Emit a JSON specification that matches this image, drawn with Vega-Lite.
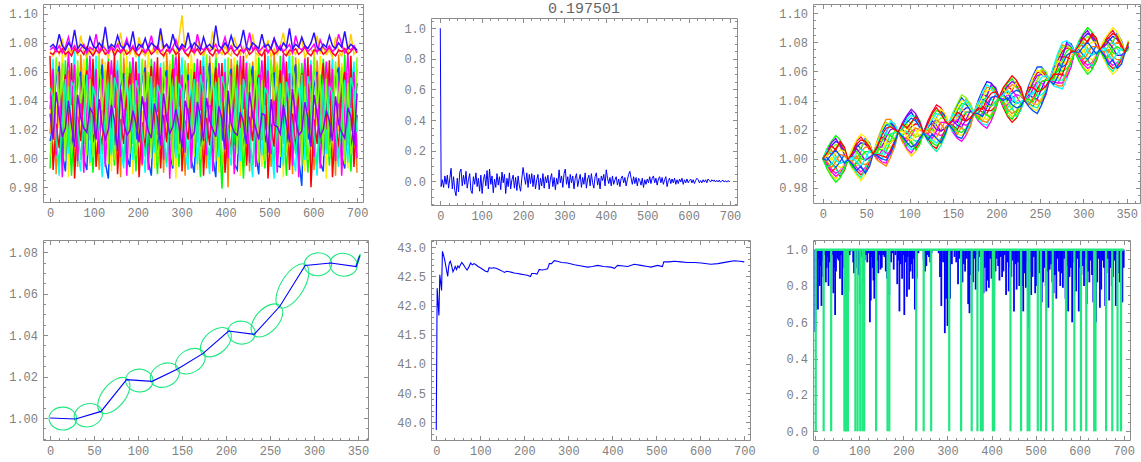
{
"$schema":"https://vega.github.io/schema/vega-lite/v6.json",
"background":"white",
"padding":{"left":8,"top":0,"right":0,"bottom":0},
"columns":3,
"spacing":{"row":35,"column":63},
"bounds":"flush",
"datasets":{
"p1":[
{"x":0,"a":1.077,"b":1.075,"c":1.073,"d":1.074,"e":1.017,"f":1.060,"g":0.993,"h":1.041,"i":1.012,"j":1.071,"k":1.034,"l":1.001,"m":1.049,"n":1.031},
{"x":7,"a":1.079,"b":1.077,"c":1.072,"d":1.071,"e":1.054,"f":0.997,"g":1.039,"h":1.069,"i":1.023,"j":0.992,"k":1.062,"l":1.020,"m":1.042,"n":1.013},
{"x":14,"a":1.076,"b":1.074,"c":1.075,"d":1.077,"e":0.989,"f":1.037,"g":1.059,"h":1.009,"i":1.057,"j":1.024,"k":1.002,"l":1.070,"m":1.013,"n":1.046},
{"x":21,"a":1.086,"b":1.078,"c":1.073,"d":1.072,"e":1.067,"f":1.021,"g":1.044,"h":0.988,"i":1.064,"j":1.007,"k":1.058,"l":1.036,"m":0.996,"n":1.029},
{"x":28,"a":1.078,"b":1.073,"c":1.076,"d":1.083,"e":1.033,"f":1.073,"g":1.004,"h":1.053,"i":1.004,"j":1.043,"k":0.987,"l":1.066,"m":1.027,"n":1.015},
{"x":35,"a":1.075,"b":1.077,"c":1.072,"d":1.070,"e":1.010,"f":1.049,"g":1.068,"h":1.026,"i":0.991,"j":1.058,"k":1.038,"l":0.998,"m":1.055,"n":1.021},
{"x":42,"a":1.080,"b":1.084,"c":1.074,"d":1.076,"e":1.061,"f":0.987,"g":1.028,"h":1.003,"i":1.042,"j":1.018,"k":1.073,"l":1.050,"m":1.008,"n":1.040},
{"x":49,"a":1.077,"b":1.075,"c":1.071,"d":1.073,"e":1.020,"f":1.063,"g":0.988,"h":1.048,"i":1.007,"j":1.066,"k":1.037,"l":1.004,"m":1.053,"n":1.023},
{"x":56,"a":1.089,"b":1.078,"c":1.076,"d":1.078,"e":1.050,"f":1.001,"g":1.034,"h":1.074,"i":1.027,"j":0.986,"k":1.065,"l":1.015,"m":1.049,"n":1.008},
{"x":63,"a":1.076,"b":1.074,"c":1.073,"d":1.071,"e":0.994,"f":1.032,"g":1.063,"h":1.004,"i":1.055,"j":1.029,"k":0.998,"l":1.068,"m":1.022,"n":1.044},
{"x":70,"a":1.079,"b":1.076,"c":1.075,"d":1.085,"e":1.072,"f":1.016,"g":1.040,"h":0.991,"i":1.060,"j":1.012,"k":1.050,"l":1.038,"m":0.999,"n":1.028},
{"x":77,"a":1.077,"b":1.079,"c":1.072,"d":1.074,"e":1.040,"f":1.069,"g":1.010,"h":1.050,"i":1.000,"j":1.047,"k":0.990,"l":1.058,"m":1.024,"n":1.021},
{"x":84,"a":1.075,"b":1.073,"c":1.077,"d":1.070,"e":1.006,"f":1.044,"g":1.074,"h":1.022,"i":0.992,"j":1.061,"k":1.032,"l":1.002,"m":1.058,"n":1.018},
{"x":91,"a":1.084,"b":1.077,"c":1.074,"d":1.076,"e":1.058,"f":0.995,"g":1.025,"h":0.997,"i":1.047,"j":1.014,"k":1.071,"l":1.055,"m":1.012,"n":1.035},
{"x":98,"a":1.078,"b":1.075,"c":1.071,"d":1.072,"e":1.018,"f":1.066,"g":0.990,"h":1.042,"i":1.011,"j":1.069,"k":1.031,"l":1.001,"m":1.050,"n":1.031},
{"x":105,"a":1.076,"b":1.086,"c":1.075,"d":1.077,"e":1.052,"f":0.995,"g":1.038,"h":1.071,"i":1.024,"j":0.994,"k":1.062,"l":1.019,"m":1.041,"n":1.013},
{"x":112,"a":1.080,"b":1.074,"c":1.073,"d":1.071,"e":0.992,"f":1.035,"g":1.060,"h":1.013,"i":1.052,"j":1.022,"k":1.003,"l":1.071,"m":1.020,"n":1.041},
{"x":119,"a":1.077,"b":1.078,"c":1.076,"d":1.082,"e":1.069,"f":1.022,"g":1.045,"h":0.987,"i":1.065,"j":1.008,"k":1.055,"l":1.033,"m":1.003,"n":1.022},
{"x":126,"a":1.091,"b":1.076,"c":1.072,"d":1.074,"e":1.036,"f":1.067,"g":1.013,"h":1.053,"i":0.997,"j":1.046,"k":0.994,"l":1.061,"m":1.029,"n":1.013},
{"x":133,"a":1.076,"b":1.073,"c":1.074,"d":1.070,"e":1.012,"f":1.042,"g":1.070,"h":1.028,"i":0.986,"j":1.067,"k":1.036,"l":0.996,"m":1.052,"n":1.020},
{"x":140,"a":1.079,"b":1.077,"c":1.077,"d":1.078,"e":1.062,"f":0.991,"g":1.023,"h":1.002,"i":1.043,"j":1.021,"k":1.068,"l":1.058,"m":1.004,"n":1.037},
{"x":147,"a":1.077,"b":1.075,"c":1.071,"d":1.073,"e":1.014,"f":1.059,"g":0.995,"h":1.045,"i":1.009,"j":1.072,"k":1.035,"l":0.999,"m":1.056,"n":1.026},
{"x":154,"a":1.085,"b":1.079,"c":1.075,"d":1.076,"e":1.057,"f":0.998,"g":1.031,"h":1.068,"i":1.030,"j":0.989,"k":1.061,"l":1.017,"m":1.046,"n":1.005},
{"x":161,"a":1.078,"b":1.074,"c":1.073,"d":1.087,"e":0.987,"f":1.038,"g":1.064,"h":1.007,"i":1.050,"j":1.027,"k":1.001,"l":1.073,"m":1.016,"n":1.048},
{"x":168,"a":1.076,"b":1.077,"c":1.076,"d":1.071,"e":1.070,"f":1.019,"g":1.047,"h":0.993,"i":1.059,"j":1.010,"k":1.053,"l":1.034,"m":0.998,"n":1.025},
{"x":175,"a":1.080,"b":1.083,"c":1.072,"d":1.075,"e":1.039,"f":1.071,"g":1.006,"h":1.057,"i":1.002,"j":1.041,"k":0.988,"l":1.063,"m":1.030,"n":1.016},
{"x":182,"a":1.077,"b":1.075,"c":1.074,"d":1.072,"e":1.011,"f":1.046,"g":1.067,"h":1.024,"i":0.994,"j":1.059,"k":1.039,"l":1.003,"m":1.051,"n":1.019},
{"x":189,"a":1.088,"b":1.078,"c":1.077,"d":1.077,"e":1.064,"f":0.989,"g":1.029,"h":0.999,"i":1.048,"j":1.015,"k":1.070,"l":1.052,"m":1.010,"n":1.033},
{"x":196,"a":1.075,"b":1.074,"c":1.073,"d":1.070,"e":1.021,"f":1.062,"g":0.991,"h":1.040,"i":1.013,"j":1.067,"k":1.038,"l":1.002,"m":1.054,"n":1.024},
{"x":203,"a":1.079,"b":1.076,"c":1.071,"d":1.084,"e":1.049,"f":1.003,"g":1.036,"h":1.072,"i":1.028,"j":0.987,"k":1.059,"l":1.014,"m":1.044,"n":1.011},
{"x":210,"a":1.077,"b":1.079,"c":1.075,"d":1.074,"e":0.995,"f":1.033,"g":1.061,"h":1.010,"i":1.057,"j":1.025,"k":0.996,"l":1.069,"m":1.018,"n":1.043},
{"x":217,"a":1.083,"b":1.073,"c":1.073,"d":1.071,"e":1.068,"f":1.015,"g":1.042,"h":0.990,"i":1.063,"j":1.006,"k":1.051,"l":1.039,"m":1.001,"n":1.030},
{"x":224,"a":1.076,"b":1.077,"c":1.076,"d":1.076,"e":1.034,"f":1.074,"g":1.008,"h":1.055,"i":0.998,"j":1.044,"k":0.992,"l":1.060,"m":1.023,"n":1.019},
{"x":231,"a":1.080,"b":1.085,"c":1.072,"d":1.073,"e":1.007,"f":1.048,"g":1.069,"h":1.027,"i":0.988,"j":1.064,"k":1.033,"l":1.000,"m":1.057,"n":1.014},
{"x":238,"a":1.078,"b":1.075,"c":1.074,"d":1.078,"e":1.059,"f":0.993,"g":1.026,"h":1.004,"i":1.045,"j":1.020,"k":1.067,"l":1.049,"m":1.009,"n":1.038},
{"x":245,"a":1.076,"b":1.078,"c":1.077,"d":1.072,"e":1.016,"f":1.065,"g":0.989,"h":1.047,"i":1.005,"j":1.070,"k":1.032,"l":0.997,"m":1.051,"n":1.028},
{"x":252,"a":1.090,"b":1.074,"c":1.073,"d":1.086,"e":1.056,"f":0.996,"g":1.039,"h":1.066,"i":1.025,"j":0.993,"k":1.063,"l":1.021,"m":1.043,"n":1.009},
{"x":259,"a":1.077,"b":1.076,"c":1.071,"d":1.070,"e":0.990,"f":1.036,"g":1.058,"h":1.012,"i":1.054,"j":1.030,"k":0.999,"l":1.067,"m":1.015,"n":1.045},
{"x":266,"a":1.079,"b":1.079,"c":1.075,"d":1.075,"e":1.073,"f":1.017,"g":1.041,"h":0.994,"i":1.061,"j":1.011,"k":1.056,"l":1.032,"m":0.997,"n":1.027},
{"x":273,"a":1.076,"b":1.073,"c":1.074,"d":1.073,"e":1.037,"f":1.068,"g":1.012,"h":1.051,"i":1.003,"j":1.048,"k":0.986,"l":1.065,"m":1.026,"n":1.017},
{"x":280,"a":1.086,"b":1.077,"c":1.076,"d":1.077,"e":1.009,"f":1.043,"g":1.072,"h":1.029,"i":0.993,"j":1.062,"k":1.040,"l":0.995,"m":1.050,"n":1.022},
{"x":287,"a":1.078,"b":1.082,"c":1.072,"d":1.071,"e":1.063,"f":0.986,"g":1.030,"h":1.000,"i":1.046,"j":1.016,"k":1.074,"l":1.057,"m":1.006,"n":1.034},
{"x":294,"a":1.075,"b":1.075,"c":1.074,"d":1.083,"e":1.019,"f":1.061,"g":0.994,"h":1.044,"i":1.010,"j":1.073,"k":1.036,"l":1.003,"m":1.052,"n":1.023},
{"x":301,"a":1.079,"b":1.078,"c":1.077,"d":1.099,"e":1.053,"f":1.000,"g":1.033,"h":1.070,"i":1.029,"j":0.991,"k":1.058,"l":1.016,"m":1.047,"n":1.007},
{"x":308,"a":1.077,"b":1.074,"c":1.073,"d":1.074,"e":0.988,"f":1.039,"g":1.065,"h":1.005,"i":1.049,"j":1.026,"k":1.004,"l":1.068,"m":1.021,"n":1.040},
{"x":315,"a":1.087,"b":1.076,"c":1.071,"d":1.070,"e":1.066,"f":1.020,"g":1.046,"h":0.992,"i":1.058,"j":1.013,"k":1.054,"l":1.035,"m":1.000,"n":1.031},
{"x":322,"a":1.076,"b":1.079,"c":1.075,"d":1.076,"e":1.032,"f":1.072,"g":1.005,"h":1.056,"i":0.999,"j":1.042,"k":0.993,"l":1.062,"m":1.028,"n":1.014},
{"x":329,"a":1.080,"b":1.073,"c":1.073,"d":1.072,"e":1.013,"f":1.047,"g":1.066,"h":1.023,"i":0.990,"j":1.060,"k":1.037,"l":1.001,"m":1.055,"n":1.018},
{"x":336,"a":1.078,"b":1.086,"c":1.076,"d":1.085,"e":1.060,"f":0.992,"g":1.027,"h":0.996,"i":1.041,"j":1.019,"k":1.069,"l":1.053,"m":1.011,"n":1.039},
{"x":343,"a":1.075,"b":1.077,"c":1.072,"d":1.073,"e":1.015,"f":1.064,"g":0.987,"h":1.046,"i":1.008,"j":1.068,"k":1.033,"l":1.000,"m":1.058,"n":1.029},
{"x":350,"a":1.084,"b":1.075,"c":1.074,"d":1.071,"e":1.051,"f":0.997,"g":1.040,"h":1.073,"i":1.024,"j":0.988,"k":1.064,"l":1.018,"m":1.045,"n":1.012},
{"x":357,"a":1.077,"b":1.078,"c":1.077,"d":1.077,"e":0.993,"f":1.034,"g":1.062,"h":1.011,"i":1.053,"j":1.028,"k":1.002,"l":1.072,"m":1.014,"n":1.042},
{"x":364,"a":1.079,"b":1.074,"c":1.073,"d":1.074,"e":1.071,"f":1.014,"g":1.048,"h":0.989,"i":1.066,"j":1.009,"k":1.050,"l":1.037,"m":0.999,"n":1.026},
{"x":371,"a":1.076,"b":1.076,"c":1.071,"d":1.088,"e":1.038,"f":1.066,"g":1.011,"h":1.054,"i":1.001,"j":1.045,"k":0.991,"l":1.059,"m":1.025,"n":1.020},
{"x":378,"a":1.092,"b":1.079,"c":1.075,"d":1.070,"e":1.005,"f":1.041,"g":1.073,"h":1.030,"i":0.987,"j":1.063,"k":1.034,"l":0.998,"m":1.053,"n":1.015},
{"x":385,"a":1.078,"b":1.073,"c":1.074,"d":1.075,"e":1.065,"f":0.990,"g":1.024,"h":1.001,"i":1.049,"j":1.017,"k":1.066,"l":1.056,"m":1.007,"n":1.036},
{"x":392,"a":1.076,"b":1.077,"c":1.076,"d":1.072,"e":1.022,"f":1.058,"g":0.979,"h":1.043,"i":1.012,"j":1.066,"k":1.039,"l":0.996,"m":1.057,"n":1.027},
{"x":399,"a":1.080,"b":1.084,"c":1.072,"d":1.078,"e":1.055,"f":1.002,"g":1.035,"h":1.069,"i":1.031,"j":0.990,"k":1.060,"l":1.013,"m":1.048,"n":1.006},
{"x":406,"a":1.077,"b":1.075,"c":1.074,"d":1.073,"e":0.980,"f":1.040,"g":1.059,"h":1.008,"i":1.056,"j":1.023,"k":1.000,"l":1.070,"m":1.019,"n":1.047},
{"x":413,"a":1.085,"b":1.078,"c":1.077,"d":1.071,"e":1.069,"f":1.018,"g":1.043,"h":0.995,"i":1.062,"j":1.004,"k":1.057,"l":1.031,"m":1.002,"n":1.024},
{"x":420,"a":1.078,"b":1.074,"c":1.073,"d":1.084,"e":1.035,"f":1.070,"g":1.009,"h":1.052,"i":0.996,"j":1.040,"k":0.989,"l":1.064,"m":1.030,"n":1.018},
{"x":427,"a":1.076,"b":1.076,"c":1.071,"d":1.076,"e":1.008,"f":1.045,"g":1.068,"h":1.025,"i":0.992,"j":1.065,"k":1.035,"l":1.003,"m":1.049,"n":1.016},
{"x":434,"a":1.079,"b":1.079,"c":1.075,"d":1.072,"e":1.062,"f":0.988,"g":1.031,"h":0.998,"i":1.044,"j":1.021,"k":1.071,"l":1.051,"m":1.005,"n":1.032},
{"x":441,"a":1.089,"b":1.073,"c":1.074,"d":1.077,"e":1.017,"f":1.063,"g":0.986,"h":1.048,"i":1.006,"j":1.071,"k":1.034,"l":1.002,"m":1.055,"n":1.025},
{"x":448,"a":1.077,"b":1.077,"c":1.076,"d":1.070,"e":1.058,"f":0.999,"g":1.037,"h":1.067,"i":1.027,"j":0.995,"k":1.066,"l":1.020,"m":1.042,"n":1.010},
{"x":455,"a":1.075,"b":1.087,"c":1.072,"d":1.074,"e":0.991,"f":1.032,"g":1.063,"h":1.006,"i":1.051,"j":1.029,"k":0.997,"l":1.066,"m":1.017,"n":1.046},
{"x":462,"a":1.080,"b":1.075,"c":1.074,"d":1.086,"e":1.067,"f":1.021,"g":1.044,"h":0.987,"i":1.064,"j":1.012,"k":1.052,"l":1.033,"m":0.995,"n":1.029},
{"x":469,"a":1.078,"b":1.078,"c":1.077,"d":1.073,"e":1.040,"f":1.073,"g":1.007,"h":1.058,"i":1.003,"j":1.047,"k":0.994,"l":1.061,"m":1.022,"n":1.021},
{"x":476,"a":1.076,"b":1.074,"c":1.073,"d":1.071,"e":1.012,"f":1.042,"g":1.070,"h":1.028,"i":0.989,"j":1.058,"k":1.038,"l":0.997,"m":1.056,"n":1.013},
{"x":483,"a":1.086,"b":1.076,"c":1.071,"d":1.077,"e":1.058,"f":0.994,"g":1.022,"h":1.002,"i":1.047,"j":1.013,"k":1.068,"l":1.054,"m":1.012,"n":1.031},
{"x":490,"a":1.077,"b":1.079,"c":1.075,"d":1.074,"e":1.020,"f":1.060,"g":0.993,"h":1.041,"i":1.011,"j":1.074,"k":1.037,"l":0.998,"m":1.049,"n":1.030},
{"x":497,"a":1.079,"b":1.073,"c":1.074,"d":1.082,"e":1.050,"f":1.004,"g":1.032,"h":1.071,"i":1.022,"j":0.986,"k":1.061,"l":1.022,"m":1.044,"n":1.004},
{"x":504,"a":1.076,"b":1.077,"c":1.076,"d":1.070,"e":0.994,"f":1.037,"g":1.066,"h":1.012,"i":1.058,"j":1.024,"k":1.003,"l":1.069,"m":1.013,"n":1.041},
{"x":511,"a":1.083,"b":1.083,"c":1.072,"d":1.076,"e":1.074,"f":1.016,"g":1.047,"h":0.986,"i":1.059,"j":1.008,"k":1.049,"l":1.040,"m":0.998,"n":1.023},
{"x":518,"a":1.078,"b":1.075,"c":1.074,"d":1.072,"e":1.031,"f":1.067,"g":1.004,"h":1.050,"i":0.995,"j":1.043,"k":0.990,"l":1.065,"m":1.024,"n":1.022},
{"x":525,"a":1.075,"b":1.078,"c":1.077,"d":1.078,"e":1.004,"f":1.048,"g":1.071,"h":1.022,"i":0.994,"j":1.061,"k":1.031,"l":1.001,"m":1.052,"n":1.017},
{"x":532,"a":1.080,"b":1.074,"c":1.073,"d":1.087,"e":1.066,"f":0.987,"g":1.029,"h":0.995,"i":1.043,"j":1.015,"k":1.072,"l":1.058,"m":1.010,"n":1.037},
{"x":539,"a":1.077,"b":1.076,"c":1.071,"d":1.073,"e":1.014,"f":1.065,"g":0.988,"h":1.045,"i":1.007,"j":1.067,"k":1.040,"l":1.004,"m":1.053,"n":1.024},
{"x":546,"a":1.090,"b":1.079,"c":1.075,"d":1.071,"e":1.054,"f":0.995,"g":1.038,"h":1.074,"i":1.026,"j":0.992,"k":1.059,"l":1.017,"m":1.040,"n":1.011},
{"x":553,"a":1.076,"b":1.073,"c":1.074,"d":1.075,"e":0.989,"f":1.039,"g":1.060,"h":1.004,"i":1.055,"j":1.031,"k":0.995,"l":1.071,"m":1.020,"n":1.048},
{"x":560,"a":1.079,"b":1.085,"c":1.076,"d":1.072,"e":1.070,"f":1.013,"g":1.040,"h":0.991,"i":1.065,"j":1.005,"k":1.055,"l":1.036,"m":1.003,"n":1.027},
{"x":567,"a":1.077,"b":1.077,"c":1.072,"d":1.077,"e":1.033,"f":1.069,"g":1.013,"h":1.049,"i":1.000,"j":1.041,"k":0.987,"l":1.066,"m":1.029,"n":1.016},
{"x":574,"a":1.084,"b":1.075,"c":1.074,"d":1.083,"e":1.010,"f":1.040,"g":1.066,"h":1.031,"i":0.981,"j":1.059,"k":1.036,"l":0.995,"m":1.058,"n":1.019},
{"x":581,"a":1.078,"b":1.078,"c":1.077,"d":1.070,"e":1.061,"f":0.991,"g":1.025,"h":0.999,"i":1.048,"j":1.018,"k":1.070,"l":1.050,"m":1.008,"n":1.039},
{"x":588,"a":1.076,"b":1.074,"c":1.073,"d":1.074,"e":1.018,"f":1.062,"g":0.990,"h":1.049,"i":1.013,"j":1.070,"k":1.033,"l":0.999,"m":1.057,"n":1.028},
{"x":595,"a":1.080,"b":1.076,"c":1.071,"d":1.076,"e":1.052,"f":1.001,"g":1.034,"h":1.068,"i":1.023,"j":0.980,"k":1.065,"l":1.014,"m":1.046,"n":1.008},
{"x":602,"a":1.087,"b":1.079,"c":1.075,"d":1.071,"e":0.992,"f":1.035,"g":1.064,"h":1.009,"i":1.050,"j":1.027,"k":1.001,"l":1.074,"m":1.016,"n":1.044},
{"x":609,"a":1.077,"b":1.073,"c":1.074,"d":1.085,"e":1.068,"f":1.022,"g":1.045,"h":0.988,"i":1.060,"j":1.010,"k":1.058,"l":1.034,"m":0.996,"n":1.030},
{"x":616,"a":1.075,"b":1.082,"c":1.076,"d":1.073,"e":1.036,"f":1.071,"g":1.010,"h":1.055,"i":0.997,"j":1.046,"k":0.993,"l":1.058,"m":1.023,"n":1.015},
{"x":623,"a":1.079,"b":1.077,"c":1.072,"d":1.077,"e":1.006,"f":1.044,"g":1.069,"h":1.026,"i":0.991,"j":1.066,"k":1.039,"l":1.002,"m":1.051,"n":1.020},
{"x":630,"a":1.077,"b":1.075,"c":1.074,"d":1.072,"e":1.064,"f":0.986,"g":1.030,"h":1.003,"i":1.046,"j":1.020,"k":1.067,"l":1.055,"m":1.006,"n":1.033},
{"x":637,"a":1.085,"b":1.078,"c":1.077,"d":1.075,"e":1.016,"f":1.059,"g":0.995,"h":1.042,"i":1.009,"j":1.068,"k":1.038,"l":1.001,"m":1.050,"n":1.026},
{"x":644,"a":1.078,"b":1.074,"c":1.073,"d":1.070,"e":1.057,"f":0.998,"g":1.033,"h":1.070,"i":1.030,"j":0.987,"k":1.062,"l":1.019,"m":1.045,"n":1.012},
{"x":651,"a":1.076,"b":1.076,"c":1.071,"d":1.084,"e":0.988,"f":1.034,"g":1.058,"h":1.011,"i":1.057,"j":1.025,"k":0.998,"l":1.067,"m":1.021,"n":1.043},
{"x":658,"a":1.080,"b":1.086,"c":1.075,"d":1.074,"e":1.072,"f":1.019,"g":1.041,"h":0.994,"i":1.063,"j":1.007,"k":1.053,"l":1.038,"m":1.000,"n":1.024},
{"x":665,"a":1.077,"b":1.079,"c":1.074,"d":1.071,"e":1.034,"f":1.066,"g":1.008,"h":1.052,"i":1.002,"j":1.049,"k":0.988,"l":1.063,"m":1.027,"n":1.018},
{"x":672,"a":1.088,"b":1.073,"c":1.076,"d":1.076,"e":1.011,"f":1.047,"g":1.072,"h":1.023,"i":0.993,"j":1.060,"k":1.032,"l":0.996,"m":1.054,"n":1.014},
{"x":679,"a":1.076,"b":1.077,"c":1.072,"d":1.073,"e":1.059,"f":0.993,"g":1.027,"h":0.997,"i":1.044,"j":1.016,"k":1.073,"l":1.052,"m":1.009,"n":1.035},
{"x":686,"a":1.079,"b":1.075,"c":1.074,"d":1.086,"e":1.019,"f":1.064,"g":0.991,"h":1.046,"i":1.005,"j":1.071,"k":1.035,"l":1.003,"m":1.056,"n":1.029},
{"x":693,"a":1.077,"b":1.078,"c":1.077,"d":1.072,"e":1.055,"f":0.996,"g":1.036,"h":1.067,"i":1.028,"j":0.994,"k":1.060,"l":1.015,"m":1.047,"n":1.009},
{"x":700,"a":1.075,"b":1.074,"c":1.073,"d":1.075,"e":0.990,"f":1.038,"g":1.062,"h":1.008,"i":1.052,"j":1.030,"k":1.000,"l":1.070,"m":1.018,"n":1.045}
],
"p2":[
{"x":0,"y":1.0},{"x":2,"y":-0.035},{"x":5,"y":0.01},{"x":8,"y":-0.04},{"x":11,"y":0.035},{"x":14,"y":-0.02},{"x":17,"y":0.04},{"x":20,"y":-0.045},{"x":23,"y":0.02},{"x":26,"y":0.085},{"x":29,"y":-0.05},{"x":32,"y":0.03},{"x":35,"y":-0.06},{"x":38,"y":-0.095},{"x":41,"y":0.02},{"x":44,"y":-0.07},{"x":47,"y":0.06},{"x":50,"y":0.08},{"x":53,"y":-0.03},{"x":56,"y":0.04},{"x":59,"y":-0.02},{"x":62,"y":0.065},{"x":65,"y":-0.045},{"x":68,"y":0.01},{"x":71,"y":0.05},{"x":74,"y":-0.06},{"x":77,"y":-0.08},{"x":80,"y":0.03},{"x":83,"y":-0.02},{"x":86,"y":0.055},{"x":89,"y":-0.035},{"x":92,"y":0.02},{"x":95,"y":-0.065},{"x":98,"y":0.04},{"x":101,"y":-0.08},{"x":104,"y":0.01},{"x":107,"y":0.045},{"x":110,"y":-0.03},{"x":113,"y":0.07},{"x":116,"y":-0.05},{"x":119,"y":0.08},{"x":122,"y":-0.02},{"x":125,"y":0.035},{"x":128,"y":-0.075},{"x":131,"y":0.015},{"x":134,"y":-0.04},{"x":137,"y":0.05},{"x":140,"y":-0.025},{"x":143,"y":0.03},{"x":146,"y":-0.055},{"x":149,"y":0.06},{"x":152,"y":-0.01},{"x":155,"y":0.045},{"x":158,"y":-0.08},{"x":161,"y":0.02},{"x":164,"y":-0.035},{"x":167,"y":0.055},{"x":170,"y":-0.05},{"x":173,"y":0.01},{"x":176,"y":0.04},{"x":179,"y":-0.045},{"x":182,"y":0.025},{"x":185,"y":-0.06},{"x":188,"y":0.035},{"x":191,"y":-0.03},{"x":194,"y":-0.065},{"x":197,"y":0.02},{"x":200,"y":0.09},{"x":203,"y":0.03},{"x":206,"y":-0.02},{"x":209,"y":0.055},{"x":212,"y":-0.04},{"x":215,"y":0.045},{"x":218,"y":-0.015},{"x":221,"y":0.05},{"x":224,"y":-0.035},{"x":227,"y":0.04},{"x":230,"y":-0.05},{"x":233,"y":0.01},{"x":236,"y":0.045},{"x":239,"y":-0.055},{"x":242,"y":0.02},{"x":245,"y":-0.03},{"x":248,"y":0.05},{"x":251,"y":-0.045},{"x":254,"y":0.03},{"x":257,"y":-0.01},{"x":260,"y":0.04},{"x":263,"y":-0.05},{"x":266,"y":0.015},{"x":269,"y":0.05},{"x":272,"y":-0.035},{"x":275,"y":0.025},{"x":278,"y":-0.055},{"x":281,"y":0.02},{"x":284,"y":-0.02},{"x":287,"y":0.075},{"x":290,"y":-0.01},{"x":293,"y":0.035},{"x":296,"y":-0.04},{"x":299,"y":0.05},{"x":302,"y":0.08},{"x":305,"y":-0.02},{"x":308,"y":0.03},{"x":311,"y":-0.045},{"x":314,"y":0.045},{"x":317,"y":-0.01},{"x":320,"y":0.035},{"x":323,"y":-0.05},{"x":326,"y":0.02},{"x":329,"y":0.05},{"x":332,"y":-0.035},{"x":335,"y":0.01},{"x":338,"y":0.045},{"x":341,"y":-0.04},{"x":344,"y":0.025},{"x":347,"y":-0.02},{"x":350,"y":0.055},{"x":353,"y":-0.045},{"x":356,"y":0.015},{"x":359,"y":0.04},{"x":362,"y":-0.03},{"x":365,"y":0.05},{"x":368,"y":-0.01},{"x":371,"y":-0.045},{"x":374,"y":0.03},{"x":377,"y":0.055},{"x":380,"y":-0.025},{"x":383,"y":0.02},{"x":386,"y":-0.05},{"x":389,"y":0.035},{"x":392,"y":0.005},{"x":395,"y":0.045},{"x":398,"y":-0.03},{"x":401,"y":0.075},{"x":404,"y":0.02},{"x":407,"y":-0.015},{"x":410,"y":0.025},{"x":413,"y":-0.03},{"x":416,"y":0.035},{"x":419,"y":-0.02},{"x":422,"y":0.01},{"x":425,"y":0.03},{"x":428,"y":-0.025},{"x":431,"y":0.015},{"x":434,"y":-0.035},{"x":437,"y":0.02},{"x":440,"y":0.035},{"x":443,"y":-0.01},{"x":446,"y":0.025},{"x":449,"y":-0.03},{"x":452,"y":0.01},{"x":455,"y":0.045},{"x":458,"y":0.065},{"x":461,"y":0.02},{"x":464,"y":-0.02},{"x":467,"y":0.03},{"x":470,"y":-0.015},{"x":473,"y":0.025},{"x":476,"y":-0.03},{"x":479,"y":0.02},{"x":482,"y":0.005},{"x":485,"y":-0.025},{"x":488,"y":0.02},{"x":491,"y":-0.04},{"x":494,"y":0.01},{"x":497,"y":-0.02},{"x":500,"y":0.015},{"x":503,"y":-0.01},{"x":506,"y":0.03},{"x":509,"y":-0.015},{"x":512,"y":0.02},{"x":515,"y":0.035},{"x":518,"y":-0.01},{"x":521,"y":0.02},{"x":524,"y":-0.025},{"x":527,"y":0.015},{"x":530,"y":0.03},{"x":533,"y":-0.01},{"x":536,"y":0.025},{"x":539,"y":-0.02},{"x":542,"y":0.01},{"x":545,"y":0.03},{"x":548,"y":-0.035},{"x":551,"y":0.005},{"x":554,"y":0.02},{"x":557,"y":-0.015},{"x":560,"y":0.015},{"x":563,"y":-0.01},{"x":566,"y":0.02},{"x":569,"y":-0.02},{"x":572,"y":0.01},{"x":575,"y":-0.015},{"x":578,"y":0.015},{"x":581,"y":-0.005},{"x":584,"y":0.02},{"x":587,"y":-0.02},{"x":590,"y":0.01},{"x":593,"y":-0.01},{"x":596,"y":0.015},{"x":599,"y":-0.01},{"x":602,"y":0.005},{"x":605,"y":0.015},{"x":608,"y":-0.01},{"x":611,"y":0.01},{"x":614,"y":-0.015},{"x":617,"y":0.005},{"x":620,"y":0.02},{"x":623,"y":0.01},{"x":626,"y":-0.01},{"x":629,"y":0.005},{"x":632,"y":-0.01},{"x":635,"y":0.01},{"x":638,"y":-0.005},{"x":641,"y":0.01},{"x":644,"y":-0.01},{"x":647,"y":0.015},{"x":650,"y":0.005},{"x":653,"y":-0.005},{"x":656,"y":0.01},{"x":659,"y":0.0},{"x":662,"y":0.008},{"x":665,"y":-0.005},{"x":668,"y":0.006},{"x":671,"y":-0.004},{"x":674,"y":0.008},{"x":677,"y":-0.006},{"x":680,"y":0.003},{"x":683,"y":0.007},{"x":686,"y":-0.005},{"x":689,"y":0.004},{"x":692,"y":-0.006},{"x":695,"y":0.005},{"x":698,"y":-0.002},{"x":700,"y":0.0}
],
"p3":[
{"x":0,"a":1.0,"b":1.0,"c":1.0,"d":1.0,"e":1.0,"f":1.0,"g":1.0,"h":1.0,"i":1.0,"j":1.0,"k":1.0,"l":1.0,"m":1.0,"n":1.0,"o":1.0,"p":1.0,"q":1.0,"r":1.0,"s":1.0,"t":1.0},
{"x":5,"a":1.004,"b":0.997,"c":1.006,"d":0.995,"e":1.002,"f":0.998,"g":1.007,"h":0.994,"i":1.001,"j":0.996,"k":0.996,"l":1.003,"m":0.994,"n":1.005,"o":0.998,"p":1.002,"q":0.993,"r":1.006,"s":0.999,"t":1.004},
{"x":10,"a":1.009,"b":0.993,"c":1.003,"d":0.989,"e":1.006,"f":1.001,"g":1.012,"h":0.996,"i":0.997,"j":0.991,"k":0.991,"l":1.007,"m":0.997,"n":1.011,"o":0.994,"p":0.999,"q":0.988,"r":1.004,"s":1.003,"t":1.009},
{"x":15,"a":1.012,"b":0.990,"c":1.007,"d":0.986,"e":1.002,"f":0.996,"g":1.016,"h":1.001,"i":0.994,"j":0.994,"k":0.988,"l":1.010,"m":0.993,"n":1.014,"o":0.998,"p":1.004,"q":0.984,"r":0.999,"s":1.006,"t":1.006},
{"x":20,"a":1.010,"b":0.992,"c":1.011,"d":0.991,"e":0.997,"f":0.994,"g":1.013,"h":1.003,"i":0.998,"j":0.988,"k":0.990,"l":1.008,"m":0.989,"n":1.009,"o":1.003,"p":1.006,"q":0.987,"r":0.997,"s":1.002,"t":1.012},
{"x":25,"a":1.005,"b":0.996,"c":1.006,"d":0.997,"e":0.998,"f":0.995,"g":1.007,"h":1.002,"i":1.003,"j":0.992,"k":0.995,"l":1.004,"m":0.994,"n":1.003,"o":1.002,"p":1.005,"q":0.993,"r":0.998,"s":0.997,"t":1.008},
{"x":29,"a":0.9995,"b":0.9995,"c":0.9995,"d":0.9995,"e":0.9995,"f":0.9995,"g":0.9995,"h":0.9995,"i":0.9995,"j":0.9995,"k":0.9995,"l":0.9995,"m":0.9995,"n":0.9995,"o":0.9995,"p":0.9995,"q":0.9995,"r":0.9995,"s":0.9995,"t":0.9995},
{"x":34,"a":1.003,"b":0.994,"c":1.005,"d":0.998,"e":1.002,"f":0.993,"g":1.006,"h":0.999,"i":1.004,"j":0.996,"k":0.997,"l":1.006,"m":0.995,"n":1.002,"o":0.998,"p":1.007,"q":0.994,"r":1.001,"s":0.996,"t":1.004},
{"x":39,"a":1.008,"b":0.998,"c":1.012,"d":0.995,"e":1.000,"f":0.989,"g":1.005,"h":1.004,"i":1.010,"j":0.992,"k":0.994,"l":1.004,"m":0.990,"n":1.007,"o":1.002,"p":1.013,"q":0.997,"r":0.998,"s":0.992,"t":1.010},
{"x":44,"a":1.011,"b":0.994,"c":1.015,"d":0.999,"e":1.005,"f":0.985,"g":1.000,"h":1.007,"i":1.007,"j":0.989,"k":0.991,"l":1.008,"m":0.987,"n":1.003,"o":0.997,"p":1.017,"q":1.002,"r":0.995,"s":0.995,"t":1.013},
{"x":49,"a":1.010,"b":0.991,"c":1.011,"d":1.005,"e":1.008,"f":0.989,"g":0.999,"h":1.004,"i":1.014,"j":0.992,"k":0.994,"l":1.013,"m":0.993,"n":0.999,"o":0.996,"p":1.015,"q":1.005,"r":1.000,"s":0.990,"t":1.012},
{"x":54,"a":1.007,"b":0.997,"c":1.006,"d":1.005,"e":1.008,"f":0.996,"g":1.001,"h":1.000,"i":1.011,"j":0.998,"k":0.999,"l":1.009,"m":1.000,"n":1.001,"o":0.998,"p":1.010,"q":1.005,"r":1.006,"s":0.995,"t":1.008},
{"x":58,"a":1.0032,"b":1.0032,"c":1.0032,"d":1.0032,"e":1.0032,"f":1.0032,"g":1.0032,"h":1.0032,"i":1.0032,"j":1.0032,"k":1.0032,"l":1.0032,"m":1.0032,"n":1.0032,"o":1.0032,"p":1.0032,"q":1.0032,"r":1.0032,"s":1.0032,"t":1.0032},
{"x":63,"a":1.012,"b":1.001,"c":1.008,"d":1.004,"e":1.013,"f":1.000,"g":1.007,"h":1.002,"i":1.010,"j":1.003,"k":1.000,"l":1.011,"m":1.004,"n":1.008,"o":0.999,"p":1.012,"q":1.005,"r":1.010,"s":1.002,"t":1.009},
{"x":68,"a":1.012,"b":0.998,"c":1.015,"d":1.010,"e":1.021,"f":1.005,"g":1.006,"h":1.000,"i":1.018,"j":1.002,"k":1.006,"l":1.020,"m":1.003,"n":1.008,"o":0.997,"p":1.013,"q":1.012,"r":1.018,"s":1.000,"t":1.016},
{"x":73,"a":1.018,"b":0.997,"c":1.013,"d":1.007,"e":1.027,"f":1.012,"g":1.005,"h":1.005,"i":1.023,"j":1.001,"k":1.004,"l":1.025,"m":1.009,"n":1.015,"o":0.995,"p":1.010,"q":1.017,"r":1.017,"s":0.999,"t":1.021},
{"x":78,"a":1.025,"b":1.005,"c":1.011,"d":1.008,"e":1.027,"f":1.017,"g":1.012,"h":1.002,"i":1.024,"j":1.006,"k":1.003,"l":1.023,"m":1.017,"n":1.020,"o":1.001,"p":1.011,"q":1.016,"r":1.026,"s":1.004,"t":1.022},
{"x":83,"a":1.022,"b":1.013,"c":1.014,"d":1.011,"e":1.023,"f":1.018,"g":1.019,"h":1.008,"i":1.021,"j":1.012,"k":1.010,"l":1.019,"m":1.018,"n":1.021,"o":1.009,"p":1.014,"q":1.013,"r":1.024,"s":1.011,"t":1.020},
{"x":87,"a":1.0185,"b":1.0185,"c":1.0185,"d":1.0185,"e":1.0185,"f":1.0185,"g":1.0185,"h":1.0185,"i":1.0185,"j":1.0185,"k":1.0185,"l":1.0185,"m":1.0185,"n":1.0185,"o":1.0185,"p":1.0185,"q":1.0185,"r":1.0185,"s":1.0185,"t":1.0185},
{"x":92,"a":1.023,"b":1.016,"c":1.020,"d":1.011,"e":1.024,"f":1.017,"g":1.022,"h":1.014,"i":1.021,"j":1.012,"k":1.013,"l":1.020,"m":1.016,"n":1.025,"o":1.012,"p":1.019,"q":1.014,"r":1.022,"s":1.015,"t":1.024},
{"x":97,"a":1.029,"b":1.012,"c":1.017,"d":1.006,"e":1.022,"f":1.021,"g":1.027,"h":1.009,"i":1.025,"j":1.015,"k":1.007,"l":1.024,"m":1.019,"n":1.030,"o":1.014,"p":1.015,"q":1.009,"r":1.027,"s":1.011,"t":1.021},
{"x":102,"a":1.032,"b":1.016,"c":1.022,"d":1.002,"e":1.017,"f":1.024,"g":1.024,"h":1.006,"i":1.028,"j":1.011,"k":1.004,"l":1.020,"m":1.014,"n":1.034,"o":1.019,"p":1.012,"q":1.012,"r":1.030,"s":1.008,"t":1.025},
{"x":107,"a":1.027,"b":1.021,"c":1.024,"d":1.005,"e":1.015,"f":1.020,"g":1.030,"h":1.008,"i":1.026,"j":1.007,"k":1.009,"l":1.015,"m":1.012,"n":1.031,"o":1.021,"p":1.016,"q":1.006,"r":1.028,"s":1.010,"t":1.029},
{"x":112,"a":1.021,"b":1.020,"c":1.023,"d":1.011,"e":1.016,"f":1.015,"g":1.026,"h":1.013,"i":1.022,"j":1.012,"k":1.015,"l":1.016,"m":1.013,"n":1.025,"o":1.020,"p":1.021,"q":1.010,"r":1.023,"s":1.014,"t":1.024},
{"x":116,"a":1.0177,"b":1.0177,"c":1.0177,"d":1.0177,"e":1.0177,"f":1.0177,"g":1.0177,"h":1.0177,"i":1.0177,"j":1.0177,"k":1.0177,"l":1.0177,"m":1.0177,"n":1.0177,"o":1.0177,"p":1.0177,"q":1.0177,"r":1.0177,"s":1.0177,"t":1.0177},
{"x":121,"a":1.021,"b":1.017,"c":1.026,"d":1.013,"e":1.020,"f":1.015,"g":1.023,"h":1.016,"i":1.025,"j":1.014,"k":1.017,"l":1.021,"m":1.012,"n":1.025,"o":1.018,"p":1.023,"q":1.015,"r":1.022,"s":1.013,"t":1.024},
{"x":126,"a":1.026,"b":1.021,"c":1.032,"d":1.016,"e":1.017,"f":1.011,"g":1.029,"h":1.013,"i":1.023,"j":1.009,"k":1.014,"l":1.019,"m":1.008,"n":1.024,"o":1.023,"p":1.029,"q":1.011,"r":1.027,"s":1.017,"t":1.031},
{"x":131,"a":1.023,"b":1.017,"c":1.037,"d":1.022,"e":1.015,"f":1.015,"g":1.033,"h":1.011,"i":1.028,"j":1.007,"k":1.019,"l":1.025,"m":1.005,"n":1.020,"o":1.027,"p":1.027,"q":1.009,"r":1.031,"s":1.014,"t":1.035},
{"x":136,"a":1.019,"b":1.016,"c":1.035,"d":1.025,"e":1.020,"f":1.010,"g":1.032,"h":1.014,"i":1.033,"j":1.013,"k":1.025,"l":1.028,"m":1.009,"n":1.019,"o":1.024,"p":1.034,"q":1.012,"r":1.030,"s":1.011,"t":1.031},
{"x":141,"a":1.021,"b":1.018,"c":1.030,"d":1.025,"e":1.026,"f":1.015,"g":1.028,"h":1.019,"i":1.029,"j":1.020,"k":1.025,"l":1.028,"m":1.016,"n":1.021,"o":1.020,"p":1.031,"q":1.018,"r":1.027,"s":1.017,"t":1.026},
{"x":145,"a":1.0237,"b":1.0237,"c":1.0237,"d":1.0237,"e":1.0237,"f":1.0237,"g":1.0237,"h":1.0237,"i":1.0237,"j":1.0237,"k":1.0237,"l":1.0237,"m":1.0237,"n":1.0237,"o":1.0237,"p":1.0237,"q":1.0237,"r":1.0237,"s":1.0237,"t":1.0237},
{"x":150,"a":1.027,"b":1.018,"c":1.031,"d":1.024,"e":1.029,"f":1.021,"g":1.028,"h":1.019,"i":1.030,"j":1.023,"k":1.023,"l":1.032,"m":1.019,"n":1.026,"o":1.021,"p":1.029,"q":1.022,"r":1.031,"s":1.020,"t":1.027},
{"x":155,"a":1.025,"b":1.014,"c":1.030,"d":1.029,"e":1.035,"f":1.017,"g":1.033,"h":1.023,"i":1.037,"j":1.020,"k":1.027,"l":1.038,"m":1.022,"n":1.023,"o":1.017,"p":1.035,"q":1.019,"r":1.029,"s":1.015,"t":1.032},
{"x":160,"a":1.032,"b":1.012,"c":1.027,"d":1.034,"e":1.034,"f":1.016,"g":1.038,"h":1.021,"i":1.042,"j":1.026,"k":1.024,"l":1.044,"m":1.029,"n":1.022,"o":1.022,"p":1.040,"q":1.018,"r":1.035,"s":1.014,"t":1.030},
{"x":165,"a":1.035,"b":1.016,"c":1.026,"d":1.031,"e":1.041,"f":1.019,"g":1.037,"h":1.018,"i":1.038,"j":1.032,"k":1.023,"l":1.042,"m":1.032,"n":1.027,"o":1.017,"p":1.039,"q":1.021,"r":1.040,"s":1.020,"t":1.026},
{"x":170,"a":1.035,"b":1.023,"c":1.028,"d":1.027,"e":1.038,"f":1.025,"g":1.034,"h":1.024,"i":1.033,"j":1.032,"k":1.025,"l":1.037,"m":1.032,"n":1.033,"o":1.022,"p":1.035,"q":1.026,"r":1.036,"s":1.027,"t":1.028},
{"x":174,"a":1.0312,"b":1.0312,"c":1.0312,"d":1.0312,"e":1.0312,"f":1.0312,"g":1.0312,"h":1.0312,"i":1.0312,"j":1.0312,"k":1.0312,"l":1.0312,"m":1.0312,"n":1.0312,"o":1.0312,"p":1.0312,"q":1.0312,"r":1.0312,"s":1.0312,"t":1.0312},
{"x":179,"a":1.040,"b":1.027,"c":1.034,"d":1.029,"e":1.037,"f":1.030,"g":1.039,"h":1.028,"i":1.035,"j":1.031,"k":1.026,"l":1.039,"m":1.032,"n":1.037,"o":1.029,"p":1.036,"q":1.027,"r":1.038,"s":1.031,"t":1.035},
{"x":184,"a":1.047,"b":1.031,"c":1.032,"d":1.026,"e":1.044,"f":1.028,"g":1.038,"h":1.024,"i":1.041,"j":1.036,"k":1.023,"l":1.039,"m":1.038,"n":1.044,"o":1.026,"p":1.042,"q":1.032,"r":1.046,"s":1.029,"t":1.034},
{"x":189,"a":1.053,"b":1.038,"c":1.031,"d":1.031,"e":1.049,"f":1.027,"g":1.044,"h":1.023,"i":1.039,"j":1.033,"k":1.021,"l":1.036,"m":1.043,"n":1.043,"o":1.025,"p":1.047,"q":1.030,"r":1.051,"s":1.035,"t":1.041},
{"x":194,"a":1.052,"b":1.042,"c":1.037,"d":1.027,"e":1.049,"f":1.031,"g":1.050,"h":1.030,"i":1.036,"j":1.033,"k":1.026,"l":1.036,"m":1.041,"n":1.051,"o":1.029,"p":1.047,"q":1.028,"r":1.048,"s":1.042,"t":1.045},
{"x":199,"a":1.048,"b":1.043,"c":1.044,"d":1.033,"e":1.046,"f":1.037,"g":1.047,"h":1.038,"i":1.039,"j":1.036,"k":1.034,"l":1.039,"m":1.038,"n":1.049,"o":1.036,"p":1.045,"q":1.035,"r":1.044,"s":1.043,"t":1.046},
{"x":203,"a":1.042,"b":1.042,"c":1.042,"d":1.042,"e":1.042,"f":1.042,"g":1.042,"h":1.042,"i":1.042,"j":1.042,"k":1.042,"l":1.042,"m":1.042,"n":1.042,"o":1.042,"p":1.042,"q":1.042,"r":1.042,"s":1.042,"t":1.042},
{"x":208,"a":1.048,"b":1.041,"c":1.046,"d":1.038,"e":1.045,"f":1.036,"g":1.047,"h":1.040,"i":1.044,"j":1.035,"k":1.036,"l":1.043,"m":1.038,"n":1.046,"o":1.039,"p":1.048,"q":1.037,"r":1.044,"s":1.040,"t":1.049},
{"x":213,"a":1.045,"b":1.044,"c":1.050,"d":1.032,"e":1.048,"f":1.038,"g":1.052,"h":1.035,"i":1.040,"j":1.029,"k":1.037,"l":1.038,"m":1.032,"n":1.050,"o":1.034,"p":1.044,"q":1.030,"r":1.047,"s":1.042,"t":1.053},
{"x":218,"a":1.040,"b":1.047,"c":1.047,"d":1.029,"e":1.051,"f":1.034,"g":1.055,"h":1.039,"i":1.045,"j":1.025,"k":1.042,"l":1.035,"m":1.035,"n":1.053,"o":1.031,"p":1.048,"q":1.027,"r":1.043,"s":1.037,"t":1.057},
{"x":223,"a":1.038,"b":1.043,"c":1.053,"d":1.031,"e":1.049,"f":1.030,"g":1.050,"h":1.044,"i":1.047,"j":1.028,"k":1.044,"l":1.039,"m":1.029,"n":1.051,"o":1.033,"p":1.052,"q":1.032,"r":1.038,"s":1.035,"t":1.054},
{"x":228,"a":1.039,"b":1.038,"c":1.049,"d":1.036,"e":1.045,"f":1.035,"g":1.044,"h":1.043,"i":1.046,"j":1.034,"k":1.043,"l":1.044,"m":1.033,"n":1.046,"o":1.037,"p":1.047,"q":1.038,"r":1.039,"s":1.036,"t":1.048},
{"x":232,"a":1.0404,"b":1.0404,"c":1.0404,"d":1.0404,"e":1.0404,"f":1.0404,"g":1.0404,"h":1.0404,"i":1.0404,"j":1.0404,"k":1.0404,"l":1.0404,"m":1.0404,"n":1.0404,"o":1.0404,"p":1.0404,"q":1.0404,"r":1.0404,"s":1.0404,"t":1.0404},
{"x":237,"a":1.044,"b":1.039,"c":1.047,"d":1.040,"e":1.049,"f":1.038,"g":1.045,"h":1.041,"i":1.050,"j":1.037,"k":1.042,"l":1.047,"m":1.039,"n":1.046,"o":1.037,"p":1.048,"q":1.041,"r":1.045,"s":1.036,"t":1.049},
{"x":242,"a":1.042,"b":1.036,"c":1.054,"d":1.038,"e":1.048,"f":1.034,"g":1.051,"h":1.046,"i":1.057,"j":1.041,"k":1.048,"l":1.054,"m":1.036,"n":1.052,"o":1.042,"p":1.056,"q":1.039,"r":1.044,"s":1.033,"t":1.049},
{"x":247,"a":1.041,"b":1.041,"c":1.059,"d":1.037,"e":1.054,"f":1.033,"g":1.049,"h":1.043,"i":1.063,"j":1.048,"k":1.053,"l":1.053,"m":1.035,"n":1.057,"o":1.040,"p":1.061,"q":1.045,"r":1.051,"s":1.031,"t":1.046},
{"x":252,"a":1.048,"b":1.038,"c":1.060,"d":1.042,"e":1.061,"f":1.041,"g":1.047,"h":1.044,"i":1.063,"j":1.053,"k":1.052,"l":1.062,"m":1.040,"n":1.058,"o":1.039,"p":1.059,"q":1.053,"r":1.056,"s":1.037,"t":1.047},
{"x":257,"a":1.055,"b":1.044,"c":1.057,"d":1.048,"e":1.058,"f":1.049,"g":1.050,"h":1.047,"i":1.059,"j":1.054,"k":1.049,"l":1.060,"m":1.047,"n":1.056,"o":1.046,"p":1.055,"q":1.054,"r":1.057,"s":1.045,"t":1.050},
{"x":261,"a":1.0538,"b":1.0538,"c":1.0538,"d":1.0538,"e":1.0538,"f":1.0538,"g":1.0538,"h":1.0538,"i":1.0538,"j":1.0538,"k":1.0538,"l":1.0538,"m":1.0538,"n":1.0538,"o":1.0538,"p":1.0538,"q":1.0538,"r":1.0538,"s":1.0538,"t":1.0538},
{"x":266,"a":1.061,"b":1.053,"c":1.060,"d":1.051,"e":1.062,"f":1.055,"g":1.059,"h":1.050,"i":1.063,"j":1.056,"k":1.053,"l":1.061,"m":1.054,"n":1.063,"o":1.052,"p":1.059,"q":1.055,"r":1.064,"s":1.051,"t":1.058},
{"x":271,"a":1.070,"b":1.052,"c":1.068,"d":1.058,"e":1.072,"f":1.055,"g":1.060,"h":1.049,"i":1.065,"j":1.064,"k":1.052,"l":1.070,"m":1.054,"n":1.064,"o":1.050,"p":1.067,"q":1.062,"r":1.073,"s":1.057,"t":1.058},
{"x":276,"a":1.070,"b":1.052,"c":1.074,"d":1.057,"e":1.078,"f":1.062,"g":1.068,"h":1.048,"i":1.063,"j":1.070,"k":1.058,"l":1.076,"m":1.054,"n":1.071,"o":1.050,"p":1.066,"q":1.060,"r":1.080,"s":1.065,"t":1.058},
{"x":281,"a":1.080,"b":1.058,"c":1.076,"d":1.057,"e":1.077,"f":1.071,"g":1.074,"h":1.055,"i":1.065,"j":1.070,"k":1.056,"l":1.078,"m":1.060,"n":1.079,"o":1.059,"p":1.065,"q":1.062,"r":1.081,"s":1.071,"t":1.066},
{"x":286,"a":1.079,"b":1.066,"c":1.075,"d":1.065,"e":1.074,"f":1.073,"g":1.076,"h":1.064,"i":1.069,"j":1.068,"k":1.063,"l":1.076,"m":1.067,"n":1.077,"o":1.068,"p":1.069,"q":1.066,"r":1.078,"s":1.073,"t":1.074},
{"x":290,"a":1.0736,"b":1.0736,"c":1.0736,"d":1.0736,"e":1.0736,"f":1.0736,"g":1.0736,"h":1.0736,"i":1.0736,"j":1.0736,"k":1.0736,"l":1.0736,"m":1.0736,"n":1.0736,"o":1.0736,"p":1.0736,"q":1.0736,"r":1.0736,"s":1.0736,"t":1.0736},
{"x":295,"a":1.078,"b":1.071,"c":1.080,"d":1.069,"e":1.076,"f":1.072,"g":1.081,"h":1.068,"i":1.075,"j":1.070,"k":1.070,"l":1.077,"m":1.068,"n":1.079,"o":1.072,"p":1.076,"q":1.067,"r":1.080,"s":1.073,"t":1.078},
{"x":300,"a":1.083,"b":1.067,"c":1.077,"d":1.063,"e":1.080,"f":1.075,"g":1.086,"h":1.070,"i":1.071,"j":1.065,"k":1.065,"l":1.081,"m":1.071,"n":1.085,"o":1.068,"p":1.073,"q":1.062,"r":1.078,"s":1.077,"t":1.083},
{"x":305,"a":1.086,"b":1.064,"c":1.081,"d":1.060,"e":1.076,"f":1.070,"g":1.090,"h":1.075,"i":1.068,"j":1.068,"k":1.062,"l":1.084,"m":1.067,"n":1.088,"o":1.072,"p":1.078,"q":1.058,"r":1.073,"s":1.080,"t":1.080},
{"x":310,"a":1.084,"b":1.066,"c":1.085,"d":1.065,"e":1.071,"f":1.068,"g":1.087,"h":1.077,"i":1.072,"j":1.062,"k":1.064,"l":1.082,"m":1.063,"n":1.083,"o":1.077,"p":1.080,"q":1.061,"r":1.071,"s":1.076,"t":1.086},
{"x":315,"a":1.080,"b":1.071,"c":1.081,"d":1.072,"e":1.073,"f":1.070,"g":1.082,"h":1.077,"i":1.078,"j":1.067,"k":1.070,"l":1.079,"m":1.069,"n":1.078,"o":1.077,"p":1.080,"q":1.068,"r":1.073,"s":1.072,"t":1.083},
{"x":319,"a":1.0748,"b":1.0748,"c":1.0748,"d":1.0748,"e":1.0748,"f":1.0748,"g":1.0748,"h":1.0748,"i":1.0748,"j":1.0748,"k":1.0748,"l":1.0748,"m":1.0748,"n":1.0748,"o":1.0748,"p":1.0748,"q":1.0748,"r":1.0748,"s":1.0748,"t":1.0748},
{"x":324,"a":1.078,"b":1.069,"c":1.080,"d":1.073,"e":1.077,"f":1.068,"g":1.081,"h":1.074,"i":1.079,"j":1.071,"k":1.072,"l":1.081,"m":1.070,"n":1.077,"o":1.073,"p":1.082,"q":1.069,"r":1.076,"s":1.071,"t":1.079},
{"x":329,"a":1.081,"b":1.071,"c":1.085,"d":1.068,"e":1.073,"f":1.062,"g":1.078,"h":1.077,"i":1.083,"j":1.065,"k":1.067,"l":1.077,"m":1.063,"n":1.080,"o":1.075,"p":1.086,"q":1.070,"r":1.071,"s":1.065,"t":1.083},
{"x":334,"a":1.084,"b":1.067,"c":1.088,"d":1.072,"e":1.078,"f":1.058,"g":1.073,"h":1.080,"i":1.080,"j":1.062,"k":1.064,"l":1.081,"m":1.060,"n":1.076,"o":1.070,"p":1.090,"q":1.075,"r":1.068,"s":1.068,"t":1.086},
{"x":339,"a":1.082,"b":1.063,"c":1.083,"d":1.077,"e":1.080,"f":1.061,"g":1.071,"h":1.076,"i":1.086,"j":1.064,"k":1.066,"l":1.085,"m":1.065,"n":1.071,"o":1.068,"p":1.087,"q":1.077,"r":1.072,"s":1.062,"t":1.084},
{"x":344,"a":1.077,"b":1.067,"c":1.076,"d":1.075,"e":1.078,"f":1.066,"g":1.071,"h":1.070,"i":1.081,"j":1.068,"k":1.069,"l":1.079,"m":1.070,"n":1.071,"o":1.068,"p":1.080,"q":1.075,"r":1.076,"s":1.065,"t":1.078},
{"x":348,"a":1.0731,"b":1.0731,"c":1.0731,"d":1.0731,"e":1.0731,"f":1.0731,"g":1.0731,"h":1.0731,"i":1.0731,"j":1.0731,"k":1.0731,"l":1.0731,"m":1.0731,"n":1.0731,"o":1.0731,"p":1.0731,"q":1.0731,"r":1.0731,"s":1.0731,"t":1.0731},
{"x":352,"a":1.079,"b":1.077,"c":1.080,"d":1.076,"e":1.078,"f":1.075,"g":1.081,"h":1.077,"i":1.079,"j":1.078,"k":1.077,"l":1.080,"m":1.076,"n":1.079,"o":1.078,"p":1.081,"q":1.075,"r":1.079,"s":1.077,"t":1.080}
],
"p4e":[
{"e":0,"o":0,"x":30.13,"y":0.99948},{"e":0,"o":1,"x":25.92,"y":1.00345},{"e":0,"o":2,"x":15.03,"y":1.00525},{"e":0,"o":3,"x":3.82,"y":1.00383},{"e":0,"o":4,"x":-1.13,"y":1.00002},{"e":0,"o":5,"x":3.08,"y":0.99605},{"e":0,"o":6,"x":13.97,"y":0.99425},{"e":0,"o":7,"x":25.18,"y":0.99567},
{"e":1,"o":0,"x":59.08,"y":1.00334},{"e":1,"o":1,"x":51.87,"y":1.00649},{"e":1,"o":2,"x":39.76,"y":1.00662},{"e":1,"o":3,"x":29.84,"y":1.00367},{"e":1,"o":4,"x":27.92,"y":0.99936},{"e":1,"o":5,"x":35.13,"y":0.99622},{"e":1,"o":6,"x":47.24,"y":0.99608},{"e":1,"o":7,"x":57.16,"y":0.99903},
{"e":2,"o":0,"x":87.71,"y":1.01888},{"e":2,"o":1,"x":76.1,"y":1.01896},{"e":2,"o":2,"x":62.38,"y":1.0143},{"e":2,"o":3,"x":54.59,"y":1.00762},{"e":2,"o":4,"x":57.29,"y":1.00283},{"e":2,"o":5,"x":68.9,"y":1.00274},{"e":2,"o":6,"x":82.62,"y":1.0074},{"e":2,"o":7,"x":90.41,"y":1.01408},
{"e":3,"o":0,"x":117.13,"y":1.01767},{"e":3,"o":1,"x":113.15,"y":1.02168},{"e":3,"o":2,"x":102.34,"y":1.0236},{"e":3,"o":3,"x":91.04,"y":1.02229},{"e":3,"o":4,"x":85.87,"y":1.01853},{"e":3,"o":5,"x":89.85,"y":1.01452},{"e":3,"o":6,"x":100.66,"y":1.0126},{"e":3,"o":7,"x":111.96,"y":1.01391},
{"e":4,"o":0,"x":146.02,"y":1.02391},{"e":4,"o":1,"x":137.45,"y":1.02647},{"e":4,"o":2,"x":124.81,"y":1.02565},{"e":4,"o":3,"x":115.5,"y":1.02193},{"e":4,"o":4,"x":114.98,"y":1.01749},{"e":4,"o":5,"x":123.55,"y":1.01493},{"e":4,"o":6,"x":136.2,"y":1.01575},{"e":4,"o":7,"x":145.5,"y":1.01947},
{"e":5,"o":0,"x":174.96,"y":1.03145},{"e":5,"o":1,"x":165.65,"y":1.0336},{"e":5,"o":2,"x":152.74,"y":1.03215},{"e":5,"o":3,"x":143.79,"y":1.02795},{"e":5,"o":4,"x":144.04,"y":1.02345},{"e":5,"o":5,"x":153.35,"y":1.0213},{"e":5,"o":6,"x":166.26,"y":1.02275},{"e":5,"o":7,"x":175.21,"y":1.02695},
{"e":6,"o":0,"x":203.85,"y":1.04232},{"e":6,"o":1,"x":193.3,"y":1.04357},{"e":6,"o":2,"x":179.93,"y":1.04074},{"e":6,"o":3,"x":171.59,"y":1.03548},{"e":6,"o":4,"x":173.15,"y":1.03088},{"e":6,"o":5,"x":183.7,"y":1.02963},{"e":6,"o":6,"x":197.07,"y":1.03246},{"e":6,"o":7,"x":205.41,"y":1.03772},
{"e":7,"o":0,"x":233.12,"y":1.04034},{"e":7,"o":1,"x":229.73,"y":1.04445},{"e":7,"o":2,"x":219.18,"y":1.04666},{"e":7,"o":3,"x":207.64,"y":1.04567},{"e":7,"o":4,"x":201.88,"y":1.04206},{"e":7,"o":5,"x":205.27,"y":1.03795},{"e":7,"o":6,"x":215.83,"y":1.03574},{"e":7,"o":7,"x":227.36,"y":1.03673},
{"e":8,"o":0,"x":261.76,"y":1.05415},{"e":8,"o":1,"x":250.53,"y":1.05472},{"e":8,"o":2,"x":236.93,"y":1.05082},{"e":8,"o":3,"x":228.95,"y":1.04475},{"e":8,"o":4,"x":231.24,"y":1.04005},{"e":8,"o":5,"x":242.47,"y":1.03948},{"e":8,"o":6,"x":256.07,"y":1.04338},{"e":8,"o":7,"x":264.05,"y":1.04945},
{"e":9,"o":0,"x":290.6,"y":1.07401},{"e":9,"o":1,"x":278.38,"y":1.07304},{"e":9,"o":2,"x":264.47,"y":1.06661},{"e":9,"o":3,"x":257.03,"y":1.05847},{"e":9,"o":4,"x":260.4,"y":1.05339},{"e":9,"o":5,"x":272.62,"y":1.05436},{"e":9,"o":6,"x":286.53,"y":1.06079},{"e":9,"o":7,"x":293.97,"y":1.06893},
{"e":10,"o":0,"x":320.12,"y":1.07485},{"e":10,"o":1,"x":314.65,"y":1.07853},{"e":10,"o":2,"x":303.24,"y":1.07968},{"e":10,"o":3,"x":292.57,"y":1.07762},{"e":10,"o":4,"x":288.88,"y":1.07355},{"e":10,"o":5,"x":294.35,"y":1.06987},{"e":10,"o":6,"x":305.76,"y":1.06872},{"e":10,"o":7,"x":316.43,"y":1.07078},
{"e":11,"o":0,"x":349.11,"y":1.07304},{"e":11,"o":1,"x":345.79,"y":1.07716},{"e":11,"o":2,"x":335.28,"y":1.07941},{"e":11,"o":3,"x":323.72,"y":1.07845},{"e":11,"o":4,"x":317.89,"y":1.07487},{"e":11,"o":5,"x":321.21,"y":1.07074},{"e":11,"o":6,"x":331.72,"y":1.0685},{"e":11,"o":7,"x":343.28,"y":1.06945},
{"e":12,"o":0,"x":352.6,"y":1.079},{"e":12,"o":1,"x":350.0,"y":1.0768},{"e":12,"o":2,"x":347.6,"y":1.073},{"e":12,"o":3,"x":350.2,"y":1.075}
],
"p4l":[
{"x":0,"y":1.0},{"x":29,"y":0.9995},{"x":58,"y":1.0032},{"x":87,"y":1.0185},{"x":116,"y":1.0177},{"x":145,"y":1.0237},{"x":174,"y":1.0312},{"x":203,"y":1.042},{"x":232,"y":1.0404},{"x":261,"y":1.0538},{"x":290,"y":1.0736},{"x":319,"y":1.0748},{"x":348,"y":1.0731},{"x":352,"y":1.0784}
],
"p5":[
{"x":0,"y":39.87},{"x":2,"y":42.3},{"x":4,"y":42.05},{"x":6,"y":41.83},{"x":8,"y":42.53},{"x":10,"y":42.4},{"x":12,"y":42.26},{"x":14,"y":42.93},{"x":17,"y":42.85},{"x":20,"y":42.75},{"x":23,"y":42.62},{"x":26,"y":42.5},{"x":28,"y":42.66},{"x":30,"y":42.74},{"x":32,"y":42.76},{"x":35,"y":42.68},{"x":38,"y":42.58},{"x":41,"y":42.63},{"x":43,"y":42.67},{"x":46,"y":42.62},{"x":49,"y":42.68},{"x":52,"y":42.65},{"x":55,"y":42.7},{"x":58,"y":42.74},{"x":62,"y":42.7},{"x":66,"y":42.65},{"x":70,"y":42.61},{"x":74,"y":42.66},{"x":78,"y":42.73},{"x":82,"y":42.7},{"x":86,"y":42.72},{"x":90,"y":42.7},{"x":95,"y":42.67},{"x":100,"y":42.65},{"x":106,"y":42.62},{"x":112,"y":42.59},{"x":117,"y":42.58},{"x":120,"y":42.65},{"x":125,"y":42.64},{"x":130,"y":42.65},{"x":136,"y":42.64},{"x":142,"y":42.62},{"x":148,"y":42.6},{"x":155,"y":42.57},{"x":160,"y":42.59},{"x":166,"y":42.58},{"x":172,"y":42.57},{"x":177,"y":42.56},{"x":185,"y":42.55},{"x":192,"y":42.54},{"x":200,"y":42.53},{"x":207,"y":42.52},{"x":214,"y":42.5},{"x":217,"y":42.55},{"x":224,"y":42.55},{"x":229,"y":42.54},{"x":234,"y":42.62},{"x":240,"y":42.61},{"x":247,"y":42.62},{"x":253,"y":42.63},{"x":257,"y":42.72},{"x":262,"y":42.72},{"x":268,"y":42.77},{"x":275,"y":42.76},{"x":285,"y":42.74},{"x":298,"y":42.73},{"x":314,"y":42.7},{"x":330,"y":42.68},{"x":344,"y":42.66},{"x":355,"y":42.67},{"x":367,"y":42.69},{"x":380,"y":42.67},{"x":397,"y":42.66},{"x":405,"y":42.64},{"x":412,"y":42.69},{"x":425,"y":42.68},{"x":435,"y":42.67},{"x":450,"y":42.71},{"x":465,"y":42.69},{"x":480,"y":42.67},{"x":488,"y":42.66},{"x":503,"y":42.69},{"x":514,"y":42.67},{"x":517,"y":42.75},{"x":530,"y":42.75},{"x":541,"y":42.76},{"x":556,"y":42.75},{"x":571,"y":42.74},{"x":587,"y":42.74},{"x":602,"y":42.73},{"x":624,"y":42.71},{"x":640,"y":42.72},{"x":662,"y":42.75},{"x":677,"y":42.77},{"x":690,"y":42.76},{"x":700,"y":42.75}
],
"p6b":[
{"x":0,"v":0.55},{"x":2,"v":0.67},{"x":4,"v":0.92},{"x":6,"v":0.67},{"x":8,"v":0.95},{"x":10,"v":0.8},{"x":12,"v":0.91},{"x":14,"v":0.69},{"x":16,"v":0.94},{"x":18,"v":0.85},{"x":22,"v":0.97},{"x":24,"v":0.82},{"x":26,"v":0.9},{"x":28,"v":0.96},{"x":30,"v":0.8},{"x":33,"v":0.93},{"x":38,"v":0.97},{"x":41,"v":0.76},{"x":43,"v":0.9},{"x":45,"v":0.64},{"x":47,"v":0.88},{"x":50,"v":0.95},{"x":53,"v":0.94},{"x":56,"v":0.84},{"x":58,"v":0.97},{"x":61,"v":0.75},{"x":64,"v":0.9},{"x":68,"v":0.96},{"x":72,"v":0.93},{"x":75,"v":0.77},{"x":78,"v":0.97},{"x":80,"v":0.99},{"x":86,"v":0.93},{"x":88,"v":0.87},{"x":92,"v":0.95},{"x":95,"v":0.9},{"x":98,"v":0.86},{"x":100,"v":0.92},{"x":102,"v":0.7},{"x":104,"v":0.96},{"x":108,"v":0.82},{"x":112,"v":0.94},{"x":115,"v":0.97},{"x":118,"v":0.93},{"x":121,"v":0.98},{"x":124,"v":0.6},{"x":126,"v":0.72},{"x":128,"v":0.96},{"x":130,"v":0.9},{"x":132,"v":0.83},{"x":134,"v":0.73},{"x":136,"v":0.98},{"x":140,"v":0.94},{"x":143,"v":0.87},{"x":145,"v":0.97},{"x":148,"v":0.89},{"x":151,"v":0.9},{"x":154,"v":0.97},{"x":157,"v":0.96},{"x":160,"v":0.88},{"x":163,"v":0.84},{"x":166,"v":0.95},{"x":168,"v":0.75},{"x":172,"v":0.93},{"x":175,"v":0.98},{"x":178,"v":0.89},{"x":182,"v":0.97},{"x":186,"v":0.81},{"x":188,"v":0.94},{"x":191,"v":0.66},{"x":194,"v":0.92},{"x":197,"v":0.84},{"x":200,"v":0.97},{"x":202,"v":0.64},{"x":205,"v":0.93},{"x":208,"v":0.74},{"x":210,"v":0.96},{"x":213,"v":0.78},{"x":216,"v":0.88},{"x":219,"v":0.92},{"x":221,"v":0.84},{"x":224,"v":0.95},{"x":226,"v":0.67},{"x":230,"v":0.84},{"x":234,"v":0.98},{"x":246,"v":0.94},{"x":249,"v":0.88},{"x":252,"v":0.91},{"x":255,"v":0.97},{"x":258,"v":0.96},{"x":261,"v":0.93},{"x":264,"v":0.98},{"x":280,"v":0.98},{"x":283,"v":0.85},{"x":286,"v":0.69},{"x":290,"v":0.93},{"x":294,"v":0.54},{"x":297,"v":0.73},{"x":300,"v":0.58},{"x":303,"v":0.97},{"x":306,"v":0.73},{"x":310,"v":0.92},{"x":316,"v":0.96},{"x":320,"v":0.93},{"x":324,"v":0.81},{"x":327,"v":0.95},{"x":331,"v":0.94},{"x":334,"v":0.82},{"x":337,"v":0.92},{"x":340,"v":0.88},{"x":344,"v":0.95},{"x":347,"v":0.7},{"x":350,"v":0.65},{"x":352,"v":0.86},{"x":355,"v":0.93},{"x":358,"v":0.82},{"x":361,"v":0.95},{"x":364,"v":0.78},{"x":367,"v":0.97},{"x":370,"v":0.88},{"x":372,"v":0.96},{"x":376,"v":0.85},{"x":379,"v":0.92},{"x":382,"v":0.76},{"x":385,"v":0.9},{"x":388,"v":0.77},{"x":391,"v":0.83},{"x":394,"v":0.79},{"x":397,"v":0.95},{"x":400,"v":0.84},{"x":403,"v":0.92},{"x":406,"v":0.74},{"x":409,"v":0.88},{"x":412,"v":0.95},{"x":415,"v":0.91},{"x":418,"v":0.83},{"x":421,"v":0.96},{"x":424,"v":0.85},{"x":427,"v":0.88},{"x":430,"v":0.97},{"x":433,"v":0.75},{"x":436,"v":0.93},{"x":439,"v":0.77},{"x":442,"v":0.9},{"x":445,"v":0.85},{"x":448,"v":0.94},{"x":451,"v":0.66},{"x":454,"v":0.92},{"x":457,"v":0.78},{"x":460,"v":0.93},{"x":463,"v":0.8},{"x":466,"v":0.95},{"x":469,"v":0.8},{"x":472,"v":0.66},{"x":475,"v":0.87},{"x":478,"v":0.79},{"x":481,"v":0.93},{"x":484,"v":0.57},{"x":487,"v":0.88},{"x":490,"v":0.75},{"x":493,"v":0.85},{"x":496,"v":0.96},{"x":499,"v":0.76},{"x":502,"v":0.8},{"x":505,"v":0.92},{"x":508,"v":0.87},{"x":511,"v":0.96},{"x":514,"v":0.71},{"x":517,"v":0.82},{"x":520,"v":0.9},{"x":523,"v":0.8},{"x":526,"v":0.88},{"x":529,"v":0.68},{"x":532,"v":0.89},{"x":535,"v":0.92},{"x":538,"v":0.82},{"x":541,"v":0.76},{"x":544,"v":0.86},{"x":547,"v":0.73},{"x":550,"v":0.95},{"x":553,"v":0.88},{"x":556,"v":0.8},{"x":559,"v":0.87},{"x":562,"v":0.79},{"x":565,"v":0.95},{"x":568,"v":0.73},{"x":571,"v":0.91},{"x":574,"v":0.66},{"x":577,"v":0.85},{"x":580,"v":0.9},{"x":583,"v":0.6},{"x":586,"v":0.93},{"x":589,"v":0.83},{"x":592,"v":0.77},{"x":595,"v":0.95},{"x":598,"v":0.66},{"x":601,"v":0.9},{"x":604,"v":0.86},{"x":607,"v":0.91},{"x":610,"v":0.8},{"x":613,"v":0.95},{"x":616,"v":0.7},{"x":619,"v":0.88},{"x":622,"v":0.82},{"x":625,"v":0.94},{"x":628,"v":0.86},{"x":631,"v":0.71},{"x":634,"v":0.9},{"x":637,"v":0.6},{"x":640,"v":0.82},{"x":643,"v":0.95},{"x":646,"v":0.68},{"x":649,"v":0.78},{"x":652,"v":0.94},{"x":655,"v":0.9},{"x":658,"v":0.69},{"x":661,"v":0.87},{"x":664,"v":0.95},{"x":667,"v":0.72},{"x":670,"v":0.9},{"x":673,"v":0.8},{"x":676,"v":0.85},{"x":679,"v":0.94},{"x":682,"v":0.69},{"x":685,"v":0.97},{"x":688,"v":0.87},{"x":691,"v":0.82},{"x":694,"v":0.93},{"x":697,"v":0.71},{"x":700,"v":0.9}
],
"p6g":[
{"x":1},{"x":19},{"x":36},{"x":66},{"x":68},{"x":70},{"x":72},{"x":74},{"x":91},{"x":96},{"x":102},{"x":107},{"x":111},{"x":138},{"x":164},{"x":168},{"x":229},{"x":246},{"x":263},{"x":304},{"x":331},{"x":355},{"x":368},{"x":376},{"x":380},{"x":403},{"x":406},{"x":443},{"x":467},{"x":482},{"x":486},{"x":505},{"x":512},{"x":524},{"x":539},{"x":569},{"x":588},{"x":603},{"x":615},{"x":633},{"x":636},{"x":660},{"x":674},{"x":686},{"x":694}
]
},
"concat":[
{
"width":320,"height":198,
"resolve":{"axis":{"x":"independent","y":"independent"}},
"layer":[
{"data":{"name":"p1"},"transform":[{"fold":["e","f","g","h","i","j","k","l","m","n","d","c","b","a"],"as":["s","y"]}],
"mark":{"type":"line","strokeWidth":1.5,"clip":true},
"encoding":{
"x":{"field":"x","type":"quantitative","scale":{"domain":[-16,713.6],"nice":false,"zero":false},"axis":{"orient":"bottom","values":[0,100,200,300,400,500,600,700],"title":null}},
"y":{"field":"y","type":"quantitative","scale":{"domain":[0.9698,1.1069],"nice":false,"zero":false},"axis":{"orient":"left","values":[0.98,1,1.02,1.04,1.06,1.08,1.1],"format":".2f","title":null}},
"color":{"field":"s","type":"nominal","legend":null,"scale":{"domain":["e","f","g","h","i","j","k","l","m","n","d","c","b","a"],"range":["#ff8000","#ffee00","#00ff00","#00ffff","#0050ff","#ff0000","#ff00ff","#80ff00","#00ffa0","#9000ff","#ffd000","#ff0030","#ff00ff","#2a10ff"]}}}},
{"data":{"values":[{}]},"mark":{"type":"point","opacity":0},"encoding":{
"x":{"datum":0,"type":"quantitative","axis":{"orient":"top","values":[0,100,200,300,400,500,600,700],"labels":false,"title":null}},
"y":{"datum":1,"type":"quantitative","axis":{"orient":"right","values":[0.98,1,1.02,1.04,1.06,1.08,1.1],"labels":false,"title":null}}}},
{"data":{"values":[{}]},"mark":{"type":"point","opacity":0},"encoding":{
"x":{"datum":0,"type":"quantitative","axis":{"orient":"bottom","values":[20,40,60,80,120,140,160,180,220,240,260,280,320,340,360,380,420,440,460,480,520,540,560,580,620,640,660,680],"labels":false,"domain":false,"tickSize":-2.5,"title":null}},
"y":{"datum":1,"type":"quantitative","axis":{"orient":"left","values":[0.975,0.985,0.99,0.995,1.005,1.01,1.015,1.025,1.03,1.035,1.045,1.05,1.055,1.065,1.07,1.075,1.085,1.09,1.095,1.105],"labels":false,"domain":false,"tickSize":-2.5,"title":null}}}},
{"data":{"values":[{}]},"mark":{"type":"point","opacity":0},"encoding":{
"x":{"datum":0,"type":"quantitative","axis":{"orient":"top","values":[20,40,60,80,120,140,160,180,220,240,260,280,320,340,360,380,420,440,460,480,520,540,560,580,620,640,660,680],"labels":false,"domain":false,"tickSize":-2.5,"title":null}},
"y":{"datum":1,"type":"quantitative","axis":{"orient":"right","values":[0.975,0.985,0.99,0.995,1.005,1.01,1.015,1.025,1.03,1.035,1.045,1.05,1.055,1.065,1.07,1.075,1.085,1.09,1.095,1.105],"labels":false,"domain":false,"tickSize":-2.5,"title":null}}}}
]
},
{
"width":306,"height":201,
"resolve":{"axis":{"x":"independent","y":"independent"}},
"layer":[
{"data":{"name":"p2"},"mark":{"type":"line","color":"#0000ff","strokeWidth":1,"clip":true},
"encoding":{
"x":{"field":"x","type":"quantitative","scale":{"domain":[-22.5,716.9],"nice":false,"zero":false},"axis":{"orient":"bottom","values":[0,100,200,300,400,500,600,700],"title":null}},
"y":{"field":"y","type":"quantitative","scale":{"domain":[-0.155,1.067],"range":[201,14],"nice":false,"zero":false},"axis":{"orient":"left","values":[0,0.2,0.4,0.6,0.8,1],"format":".1f","title":null}}}},
{"data":{"values":[{"t":"0.197501"}]},"mark":{"type":"text","font":"Liberation Mono","fontSize":15,"color":"#666666","baseline":"alphabetic","align":"center"},
"encoding":{"x":{"datum":347.2,"type":"quantitative","axis":null},"y":{"datum":1.0997,"type":"quantitative","axis":null},"text":{"field":"t","type":"nominal"}}},
{"data":{"values":[{}]},"mark":{"type":"point","opacity":0},"encoding":{
"x":{"datum":0,"type":"quantitative","axis":{"orient":"top","offset":-14,"values":[0,100,200,300,400,500,600,700],"labels":false,"title":null}},
"y":{"datum":0,"type":"quantitative","axis":{"orient":"right","values":[0,0.2,0.4,0.6,0.8,1],"labels":false,"title":null}}}},
{"data":{"values":[{}]},"mark":{"type":"point","opacity":0},"encoding":{
"x":{"datum":0,"type":"quantitative","axis":{"orient":"bottom","values":[20,40,60,80,120,140,160,180,220,240,260,280,320,340,360,380,420,440,460,480,520,540,560,580,620,640,660,680],"labels":false,"domain":false,"tickSize":-2.5,"title":null}},
"y":{"datum":0,"type":"quantitative","axis":{"orient":"left","values":[-0.15,-0.1,-0.05,0.05,0.1,0.15,0.25,0.3,0.35,0.45,0.5,0.55,0.65,0.7,0.75,0.85,0.9,0.95,1.05],"labels":false,"domain":false,"tickSize":-2.5,"title":null}}}},
{"data":{"values":[{}]},"mark":{"type":"point","opacity":0},"encoding":{
"x":{"datum":0,"type":"quantitative","axis":{"orient":"top","offset":-14,"values":[20,40,60,80,120,140,160,180,220,240,260,280,320,340,360,380,420,440,460,480,520,540,560,580,620,640,660,680],"labels":false,"domain":false,"tickSize":-2.5,"title":null}},
"y":{"datum":0,"type":"quantitative","axis":{"orient":"right","values":[-0.15,-0.1,-0.05,0.05,0.1,0.15,0.25,0.3,0.35,0.45,0.5,0.55,0.65,0.7,0.75,0.85,0.9,0.95,1.05],"labels":false,"domain":false,"tickSize":-2.5,"title":null}}}}
]
},
{
"width":327,"height":199,
"resolve":{"axis":{"x":"independent","y":"independent"}},
"layer":[
{"data":{"name":"p3"},"transform":[{"fold":["a","b","c","d","e","f","g","h","i","j","k","l","m","n","o","p","q","r","s","t"],"as":["s","y"]}],
"mark":{"type":"line","strokeWidth":1.3,"clip":true},
"encoding":{
"x":{"field":"x","type":"quantitative","scale":{"domain":[-11.2,365.3],"nice":false,"zero":false},"axis":{"orient":"bottom","values":[0,50,100,150,200,250,300,350],"title":null}},
"y":{"field":"y","type":"quantitative","scale":{"domain":[0.9697,1.1062],"nice":false,"zero":false},"axis":{"orient":"left","values":[0.98,1,1.02,1.04,1.06,1.08,1.1],"format":".2f","title":null}},
"color":{"field":"s","type":"nominal","legend":null,"scale":{"domain":["a","b","c","d","e","f","g","h","i","j","k","l","m","n","o","p","q","r","s","t"],"range":["#5e81b5","#e19c24","#8fb032","#eb6235","#8778b3","#c56e1a","#5d9ec7","#ffbf00","#a5609d","#929600","#e95536","#6685d9","#f89f13","#bc5b80","#47b66d","#5e81b5","#e19c24","#8fb032","#eb6235","#ffbf00"]}}}},
{"data":{"values":[{}]},"mark":{"type":"point","opacity":0},"encoding":{
"x":{"datum":0,"type":"quantitative","axis":{"orient":"top","values":[0,50,100,150,200,250,300,350],"labels":false,"title":null}},
"y":{"datum":1,"type":"quantitative","axis":{"orient":"right","values":[0.98,1,1.02,1.04,1.06,1.08,1.1],"labels":false,"title":null}}}},
{"data":{"values":[{}]},"mark":{"type":"point","opacity":0},"encoding":{
"x":{"datum":0,"type":"quantitative","axis":{"orient":"bottom","values":[10,20,30,40,60,70,80,90,110,120,130,140,160,170,180,190,210,220,230,240,260,270,280,290,310,320,330,340,360],"labels":false,"domain":false,"tickSize":-2.5,"title":null}},
"y":{"datum":1,"type":"quantitative","axis":{"orient":"left","values":[0.975,0.985,0.99,0.995,1.005,1.01,1.015,1.025,1.03,1.035,1.045,1.05,1.055,1.065,1.07,1.075,1.085,1.09,1.095,1.105],"labels":false,"domain":false,"tickSize":-2.5,"title":null}}}},
{"data":{"values":[{}]},"mark":{"type":"point","opacity":0},"encoding":{
"x":{"datum":0,"type":"quantitative","axis":{"orient":"top","values":[10,20,30,40,60,70,80,90,110,120,130,140,160,170,180,190,210,220,230,240,260,270,280,290,310,320,330,340,360],"labels":false,"domain":false,"tickSize":-2.5,"title":null}},
"y":{"datum":1,"type":"quantitative","axis":{"orient":"right","values":[0.975,0.985,0.99,0.995,1.005,1.01,1.015,1.025,1.03,1.035,1.045,1.05,1.055,1.065,1.07,1.075,1.085,1.09,1.095,1.105],"labels":false,"domain":false,"tickSize":-2.5,"title":null}}}}
]
},
{
"width":325,"height":200,
"resolve":{"axis":{"x":"independent","y":"independent"}},
"layer":[
{"data":{"name":"p4e"},"mark":{"type":"line","color":"#20e880","strokeWidth":1.1,"interpolate":"cardinal-closed","clip":true},
"encoding":{
"x":{"field":"x","type":"quantitative","scale":{"domain":[-8,361.4],"nice":false,"zero":false},"axis":{"orient":"bottom","values":[0,50,100,150,200,250,300,350],"title":null}},
"y":{"field":"y","type":"quantitative","scale":{"domain":[0.9894,1.0859],"nice":false,"zero":false},"axis":{"orient":"left","values":[1,1.02,1.04,1.06,1.08],"format":".2f","title":null}},
"detail":{"field":"e","type":"nominal"},
"order":{"field":"o","type":"quantitative"}}},
{"data":{"name":"p4l"},"mark":{"type":"line","color":"#0000ff","strokeWidth":1.1,"clip":true},
"encoding":{"x":{"field":"x","type":"quantitative","axis":null},"y":{"field":"y","type":"quantitative","axis":null}}},
{"data":{"values":[{}]},"mark":{"type":"point","opacity":0},"encoding":{
"x":{"datum":0,"type":"quantitative","axis":{"orient":"top","values":[0,50,100,150,200,250,300,350],"labels":false,"title":null}},
"y":{"datum":1,"type":"quantitative","axis":{"orient":"right","values":[1,1.02,1.04,1.06,1.08],"labels":false,"title":null}}}},
{"data":{"values":[{}]},"mark":{"type":"point","opacity":0},"encoding":{
"x":{"datum":0,"type":"quantitative","axis":{"orient":"bottom","values":[10,20,30,40,60,70,80,90,110,120,130,140,160,170,180,190,210,220,230,240,260,270,280,290,310,320,330,340,360],"labels":false,"domain":false,"tickSize":-2.5,"title":null}},
"y":{"datum":1,"type":"quantitative","axis":{"orient":"left","values":[0.99,0.995,1.005,1.01,1.015,1.025,1.03,1.035,1.045,1.05,1.055,1.065,1.07,1.075,1.085],"labels":false,"domain":false,"tickSize":-2.5,"title":null}}}},
{"data":{"values":[{}]},"mark":{"type":"point","opacity":0},"encoding":{
"x":{"datum":0,"type":"quantitative","axis":{"orient":"top","values":[10,20,30,40,60,70,80,90,110,120,130,140,160,170,180,190,210,220,230,240,260,270,280,290,310,320,330,340,360],"labels":false,"domain":false,"tickSize":-2.5,"title":null}},
"y":{"datum":1,"type":"quantitative","axis":{"orient":"right","values":[0.99,0.995,1.005,1.01,1.015,1.025,1.03,1.035,1.045,1.05,1.055,1.065,1.07,1.075,1.085],"labels":false,"domain":false,"tickSize":-2.5,"title":null}}}}
]
},
{
"width":319,"height":200,
"resolve":{"axis":{"x":"independent","y":"independent"}},
"layer":[
{"data":{"name":"p5"},"mark":{"type":"line","color":"#0000ff","strokeWidth":1.1,"clip":true},
"encoding":{
"x":{"field":"x","type":"quantitative","scale":{"domain":[-12,713],"nice":false,"zero":false},"axis":{"orient":"bottom","values":[0,100,200,300,400,500,600,700],"title":null}},
"y":{"field":"y","type":"quantitative","scale":{"domain":[39.697,43.125],"nice":false,"zero":false},"axis":{"orient":"left","values":[40,40.5,41,41.5,42,42.5,43],"format":".1f","title":null}}}},
{"data":{"values":[{}]},"mark":{"type":"point","opacity":0},"encoding":{
"x":{"datum":0,"type":"quantitative","axis":{"orient":"top","values":[0,100,200,300,400,500,600,700],"labels":false,"title":null}},
"y":{"datum":42,"type":"quantitative","axis":{"orient":"right","values":[40,40.5,41,41.5,42,42.5,43],"labels":false,"title":null}}}},
{"data":{"values":[{}]},"mark":{"type":"point","opacity":0},"encoding":{
"x":{"datum":0,"type":"quantitative","axis":{"orient":"bottom","values":[20,40,60,80,120,140,160,180,220,240,260,280,320,340,360,380,420,440,460,480,520,540,560,580,620,640,660,680],"labels":false,"domain":false,"tickSize":-2.5,"title":null}},
"y":{"datum":42,"type":"quantitative","axis":{"orient":"left","values":[39.7,39.8,39.9,40.1,40.2,40.3,40.4,40.6,40.7,40.8,40.9,41.1,41.2,41.3,41.4,41.6,41.7,41.8,41.9,42.1,42.2,42.3,42.4,42.6,42.7,42.8,42.9,43.1],"labels":false,"domain":false,"tickSize":-2.5,"title":null}}}},
{"data":{"values":[{}]},"mark":{"type":"point","opacity":0},"encoding":{
"x":{"datum":0,"type":"quantitative","axis":{"orient":"top","values":[20,40,60,80,120,140,160,180,220,240,260,280,320,340,360,380,420,440,460,480,520,540,560,580,620,640,660,680],"labels":false,"domain":false,"tickSize":-2.5,"title":null}},
"y":{"datum":42,"type":"quantitative","axis":{"orient":"right","values":[39.7,39.8,39.9,40.1,40.2,40.3,40.4,40.6,40.7,40.8,40.9,41.1,41.2,41.3,41.4,41.6,41.7,41.8,41.9,42.1,42.2,42.3,42.4,42.6,42.7,42.8,42.9,43.1],"labels":false,"domain":false,"tickSize":-2.5,"title":null}}}}
]
},
{
"width":317,"height":200,
"resolve":{"axis":{"x":"independent","y":"independent"}},
"layer":[
{"data":{"name":"p6b"},"mark":{"type":"rule","color":"#0000ff","strokeWidth":1.8,"clip":true},
"encoding":{
"x":{"field":"x","type":"quantitative","scale":{"domain":[-5.2,714.3],"nice":false,"zero":false},"axis":{"orient":"bottom","values":[0,100,200,300,400,500,600,700],"title":null}},
"y":{"field":"v","type":"quantitative","scale":{"domain":[-0.048,1.053],"nice":false,"zero":false},"axis":{"orient":"left","values":[0,0.2,0.4,0.6,0.8,1],"format":".1f","title":null}},
"y2":{"datum":1}}},
{"data":{"name":"p6g"},"mark":{"type":"rule","color":"#20e880","strokeWidth":2.2,"clip":true},
"encoding":{"x":{"field":"x","type":"quantitative","axis":null},"y":{"datum":0,"type":"quantitative","axis":null},"y2":{"datum":1}}},
{"data":{"values":[{}]},"mark":{"type":"rule","color":"#20e880","strokeWidth":2.5},
"encoding":{"x":{"datum":0,"type":"quantitative","axis":null},"x2":{"datum":700},"y":{"datum":1,"type":"quantitative","axis":null}}},
{"data":{"values":[{}]},"mark":{"type":"point","opacity":0},"encoding":{
"x":{"datum":0,"type":"quantitative","axis":{"orient":"top","values":[0,100,200,300,400,500,600,700],"labels":false,"title":null}},
"y":{"datum":0,"type":"quantitative","axis":{"orient":"right","values":[0,0.2,0.4,0.6,0.8,1],"labels":false,"title":null}}}},
{"data":{"values":[{}]},"mark":{"type":"point","opacity":0},"encoding":{
"x":{"datum":0,"type":"quantitative","axis":{"orient":"bottom","values":[20,40,60,80,120,140,160,180,220,240,260,280,320,340,360,380,420,440,460,480,520,540,560,580,620,640,660,680],"labels":false,"domain":false,"tickSize":-2.5,"title":null}},
"y":{"datum":0,"type":"quantitative","axis":{"orient":"left","values":[0.05,0.1,0.15,0.25,0.3,0.35,0.45,0.5,0.55,0.65,0.7,0.75,0.85,0.9,0.95,1.05],"labels":false,"domain":false,"tickSize":-2.5,"title":null}}}},
{"data":{"values":[{}]},"mark":{"type":"point","opacity":0},"encoding":{
"x":{"datum":0,"type":"quantitative","axis":{"orient":"top","values":[20,40,60,80,120,140,160,180,220,240,260,280,320,340,360,380,420,440,460,480,520,540,560,580,620,640,660,680],"labels":false,"domain":false,"tickSize":-2.5,"title":null}},
"y":{"datum":0,"type":"quantitative","axis":{"orient":"right","values":[0.05,0.1,0.15,0.25,0.3,0.35,0.45,0.5,0.55,0.65,0.7,0.75,0.85,0.9,0.95,1.05],"labels":false,"domain":false,"tickSize":-2.5,"title":null}}}}
]
}
],
"config":{
"view":{"stroke":null},
"axis":{"labelFont":"Liberation Mono","labelFontSize":12,"labelColor":"#808080","domainColor":"#8c8c8c","tickColor":"#8c8c8c","grid":false,"labelFlush":false,"labelOverlap":false,"labelBound":false,"labelPadding":10,"tickSize":-4.5,"tickWidth":1,"domainWidth":1}
}
}
